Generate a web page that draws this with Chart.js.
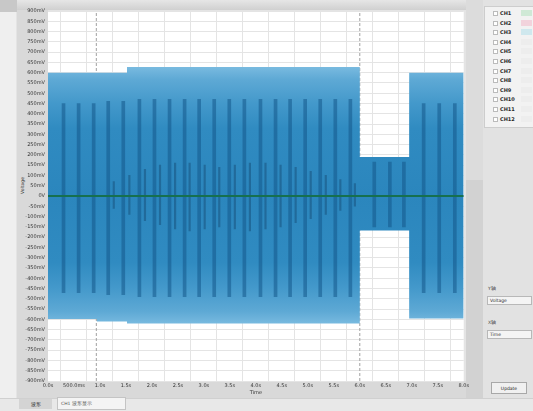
<!DOCTYPE html>
<html><head><meta charset="utf-8">
<script src="https://cdn.jsdelivr.net/npm/chart.js@4/dist/chart.umd.min.js"></script>
<style>
html,body{margin:0;padding:0;}
body{width:533px;height:411px;position:relative;overflow:hidden;background:#e4e4e4;font-family:"DejaVu Sans",sans-serif;}
.abs{position:absolute;}
#leftstrip{left:0;top:0;width:16px;height:398px;background:#efefef;}
#corner{left:0;top:0;width:17px;height:12px;background:#c8c8c8;}
#labelbg{left:17px;top:9px;width:31px;height:389px;background:#d9d9d9;}
#topbar{left:17px;top:0;width:451px;height:10px;background:linear-gradient(#e6e6e6,#d0d0d0);}
#xbg{left:17px;top:381px;width:451px;height:17px;background:#d9d9d9;}
#rightgap{left:466px;top:0;width:17px;height:398px;background:#dcdcdc;}
#rightgap2{left:466px;top:180px;width:17px;height:218px;background:#d2d2d2;}
#rpanel{left:483px;top:0;width:50px;height:398px;background:#e2e2e2;}
#legend{left:484px;top:6px;width:48px;height:120px;background:#f2f2f2;border:1px solid #cdcdcd;}
.row{position:absolute;left:0;height:8px;width:48px;}
.cb{position:absolute;left:8px;top:2px;width:3px;height:3px;border:1px solid #bbb;background:#fff;}
.lt{position:absolute;left:15px;top:0;font-size:5px;font-weight:bold;color:#2a2a2a;line-height:8px;}
.sw{position:absolute;left:36px;top:1px;width:11px;height:6px;}
.lbl{font-size:4.5px;color:#444;}
.dd{background:#f4f4f4;border:1px solid #b8b8b8;font-size:4.5px;color:#333;line-height:7px;padding-left:2px;box-sizing:border-box;}
#btn{left:491px;top:382px;width:36px;height:12px;background:#f0f0f0;border:1px solid #a8a8a8;font-size:4.5px;color:#222;text-align:center;line-height:11px;box-sizing:border-box;}
#status{left:0;top:398px;width:533px;height:13px;background:#e8e8e8;border-top:1px solid #d0d0d0;}
#tab1{left:19px;top:399px;width:33px;height:10px;background:#d4d4d4;font-size:5px;color:#222;line-height:10px;text-align:center;}
#tab2{left:57px;top:397px;width:69px;height:13px;background:#f4f4f4;border:1px solid #c4c4c4;font-size:4.5px;color:#555;line-height:12px;padding-left:3px;box-sizing:border-box;}
#ytitle{left:10px;top:183px;width:24px;text-align:center;font-size:4.5px;color:#333;transform:rotate(-90deg);}
canvas{position:absolute;left:0;top:0;}
</style></head>
<body>
<div class="abs" id="leftstrip"></div>
<div class="abs" id="labelbg"></div>
<div class="abs" id="topbar"></div>
<div class="abs" id="corner"></div>
<div class="abs" id="xbg"></div>
<div class="abs" id="rightgap"></div>
<div class="abs" id="rightgap2"></div>
<div class="abs" id="rpanel"></div>
<div class="abs" id="legend"></div>
<div class="abs lbl" style="left:488px;top:286px;">Y轴</div>
<div class="abs dd" style="left:487px;top:296px;width:45px;height:9px;">Voltage</div>
<div class="abs lbl" style="left:488px;top:320px;">X轴</div>
<div class="abs dd" style="left:487px;top:330px;width:45px;height:9px;">Time</div>
<div class="abs" id="btn">Update</div>
<div class="abs" id="status"></div>
<div class="abs" id="tab1">波形</div>
<div class="abs" id="tab2">CH1 波形显示</div>
<div class="abs" id="ytitle">Voltage</div>
<canvas id="c" width="471" height="397"></canvas>
<script>
// ---- data ----
const xTickValues = [0,0.5,1,1.5,2,2.5,3,3.5,4,4.5,5,5.5,6,6.5,7,7.5,8];
const xTickLabels = ['0.0s','500.0ms','1.0s','1.5s','2.0s','2.5s','3.0s','3.5s','4.0s','4.5s','5.0s','5.5s','6.0s','6.5s','7.0s','7.5s','8.0s'];
const yTickValues = [900,850,800,750,700,650,600,550,500,450,400,350,300,250,200,150,100,50,0,-50,-100,-150,-200,-250,-300,-350,-400,-450,-500,-550,-600,-650,-700,-750,-800,-850,-900];
const yTickLabels = ['900mV','850mV','800mV','750mV','700mV','650mV','600mV','550mV','500mV','450mV','400mV','350mV','300mV','250mV','200mV','150mV','100mV','50mV','0V','-50mV','-100mV','-150mV','-200mV','-250mV','-300mV','-350mV','-400mV','-450mV','-500mV','-550mV','-600mV','-650mV','-700mV','-750mV','-800mV','-850mV','-900mV'];
// envelope of the waveform (s, mV), corners listed explicitly
const envTimes = [0, 0.94, 0.94, 1.52, 1.52, 6.0, 6.0, 6.95, 6.95, 8.0];
const envUpper = [600, 600, 600, 600, 627, 627, 190, 190, 600, 600];
const envLower = [-598, -598, -610, -610, -620, -620, -168, -168, -596, -596];
// darker aliasing stripes (s) and their extent (mV)
const stripeTimes = [0.27,0.56,0.85,1.13,1.42,1.73,2.02,2.31,2.60,2.88,3.17,3.46,3.75,4.06,4.35,4.63,4.92,5.21,5.50,5.79,6.25,6.55,6.82,7.2,7.5,7.8];
const stripeTop =    [450,450,450,460,460,470,470,470,470,470,470,470,470,470,470,470,470,470,470,470,165,165,165,450,450,450];
const stripeBottom = [-470,-470,-470,-480,-480,-490,-490,-490,-490,-490,-490,-490,-490,-490,-490,-490,-490,-490,-490,-490,-150,-150,-150,-470,-470,-470];
// short dark marks around zero in the middle section (s, mV)
const markTimes =  [1.28,1.58,1.88,2.17,2.46,2.74,3.03,3.31,3.61,3.90,4.20,4.49,4.78,5.07,5.36,5.64,5.92];
const markTop =    [70,100,130,150,160,160,150,140,150,160,160,150,140,120,100,80,60];
const markBottom = [-60,-90,-120,-140,-160,-170,-160,-150,-160,-170,-160,-150,-130,-110,-90,-70,-50];
// reference trace at zero and cursor positions
const baseTimes = [0, 8.0];
const baseValues = [0, 0];
const cursorTimes = [0.93, 6.0];
const legendNames = ['CH1','CH2','CH3','CH4','CH5','CH6','CH7','CH8','CH9','CH10','CH11','CH12'];
const legendSwatch = ['#cfe9d6','#f2d3dc','#cfe8ee','#ededed','#ededed','#ededed','#ededed','#ededed','#ededed','#ededed','#ededed','#ededed'];

// legend rows
const lg = document.getElementById('legend');
legendNames.forEach((n,i)=>{
  const r = document.createElement('div'); r.className='row'; r.style.top=(2+i*9.6)+'px';
  r.innerHTML = '<div class="cb"></div><div class="lt">'+n+'</div><div class="sw" style="background:'+legendSwatch[i]+'"></div>';
  lg.appendChild(r);
});

function waveFill(ctx){
  const ch = ctx.chart; const ys = ch.scales && ch.scales.y;
  if(!ys) return '#2d88bf';
  const top = ys.getPixelForValue(630), bot = ys.getPixelForValue(-625);
  if(!isFinite(top)||!isFinite(bot)||top===bot) return '#2d88bf';
  const g = ch.ctx.createLinearGradient(0, top, 0, bot);
  g.addColorStop(0,'#7abbe0'); g.addColorStop(0.05,'#5ea9d5'); g.addColorStop(0.14,'#4499cb'); g.addColorStop(0.24,'#308bc1');
  g.addColorStop(0.5,'#2b86bd'); g.addColorStop(0.76,'#308bc1'); g.addColorStop(0.86,'#4499cb'); g.addColorStop(0.95,'#5ea9d5'); g.addColorStop(1,'#7abbe0');
  return g;
}

const bgPlugin = {id:'bg', beforeDraw(chart){const a=chart.chartArea;const c=chart.ctx;c.save();c.fillStyle='#ffffff';c.fillRect(a.left,a.top,a.right-a.left,a.bottom-a.top);c.restore();}};

const datasets = [];
cursorTimes.forEach(t=>datasets.push({type:'line',data:[{x:t,y:-900},{x:t,y:900}],borderColor:'#a0a0a0',borderWidth:1,borderDash:[3,2],pointRadius:0,fill:false,order:20}));
datasets.push({type:'line',label:'lower',data:envTimes.map((t,i)=>({x:t,y:envLower[i]})),borderWidth:0,borderColor:'rgba(0,0,0,0)',pointRadius:0,fill:false,order:10});
datasets.push({type:'line',label:'upper',data:envTimes.map((t,i)=>({x:t,y:envUpper[i]})),borderWidth:0,borderColor:'rgba(0,0,0,0)',pointRadius:0,fill:'-1',backgroundColor:waveFill,order:9});
datasets.push({type:'bar',label:'stripes',data:stripeTimes.map((t,i)=>({x:t,y:[stripeBottom[i],stripeTop[i]]})),backgroundColor:'rgba(20,88,138,0.55)',borderWidth:0,barThickness:3,order:5});
datasets.push({type:'bar',label:'marks',data:markTimes.map((t,i)=>({x:t,y:[markBottom[i],markTop[i]]})),backgroundColor:'rgba(20,70,110,0.45)',borderWidth:0,barThickness:1.5,order:4});
datasets.push({type:'line',label:'base',data:baseTimes.map((t,i)=>({x:t,y:baseValues[i]})),borderColor:'#16704f',borderWidth:2,pointRadius:0,fill:false,order:0});

new Chart(document.getElementById('c'),{
  type:'line',
  data:{datasets},
  plugins:[bgPlugin],
  options:{
    responsive:false,animation:false,
    layout:{padding:{top:11,right:0,bottom:0,left:0},autoPadding:false},
    plugins:{legend:{display:false},tooltip:{enabled:false}},
    scales:{
      x:{type:'linear',min:0,max:8,offset:false,
        afterBuildTicks(s){s.ticks=xTickValues.map(v=>({value:v}));},
        afterFit(s){s.height=16;},
        grid:{color:'#e4e4e4',lineWidth:1,drawTicks:false},
        border:{display:false},
        ticks:{padding:2,maxRotation:0,autoSkip:false,color:'#333',font:{size:5,family:'DejaVu Sans'},callback:(v,i)=>xTickLabels[i]},
        title:{display:true,text:'Time',color:'#333',font:{size:5,family:'DejaVu Sans'},padding:{top:0,bottom:1}}
      },
      y:{type:'linear',min:-900,max:900,
        afterBuildTicks(s){s.ticks=yTickValues.map(v=>({value:v}));},
        afterFit(s){s.width=48;},
        grid:{color:'#e4e4e4',lineWidth:1,drawTicks:false},
        border:{display:false},
        ticks:{padding:3,autoSkip:false,color:'#333',font:{size:5,family:'DejaVu Sans'},callback:(v,i)=>yTickLabels[i]}
      }
    }
  }
});
</script>
</body></html>
